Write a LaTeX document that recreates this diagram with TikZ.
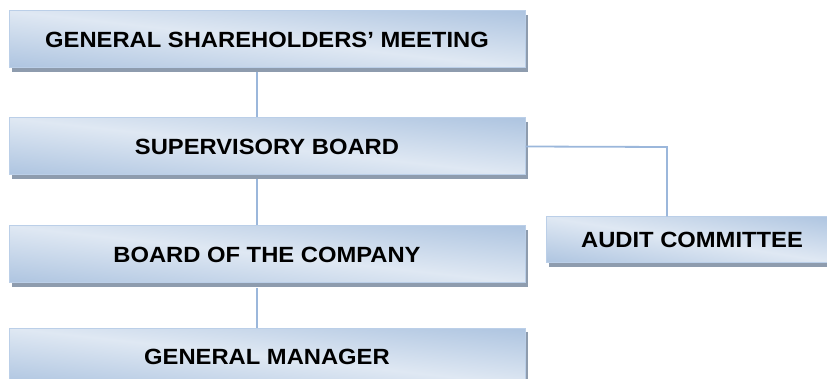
\documentclass[tikz,border=0pt]{standalone}
\usepackage{fontspec}
\setmainfont{Liberation Sans}[FakeStretch=1.08]
\usetikzlibrary{shadows}
\definecolor{boxedge}{HTML}{BBCFE8}
\definecolor{shadowgray}{HTML}{8E9CAE}
\definecolor{linkblue}{HTML}{9BB7DB}
% diagonal fill: pale band from upper left to lower right, blue towards
% the upper right and lower left corners (pale DFE8F3 -> blue 93B1D6)
\pgfdeclarefunctionalshading{diagshade}{\pgfpoint{-50bp}{-50bp}}{\pgfpoint{50bp}{50bp}}{}{
  add 100 div abs 1.3 mul dup 1 gt {pop 1} if
  dup -0.299 mul 0.875 add
  exch dup -0.216 mul 0.910 add
  exch -0.114 mul 0.953 add
}
\begin{document}
\begin{tikzpicture}[x=1pt,y=-1pt,
  orgbox/.style={shade, shading=diagshade, shading angle=0,
    draw=boxedge, line width=1pt,
    drop shadow={shadow xshift=3pt, shadow yshift=-4pt, fill=shadowgray, opacity=1},
    inner sep=0pt, font=\bfseries\fontsize{22}{26}\selectfont, text=black},
  wide/.style={orgbox, minimum width=516pt, minimum height=57pt},
  link/.style={draw=linkblue, line width=1.8pt}]
\useasboundingbox (0,0) rectangle (827,379);

% main column of the organisation chart
\node[wide] (gsm) at (267,39.5) {GENERAL SHAREHOLDERS’ MEETING};
\node[wide] (sb)  at (267,146.5) {SUPERVISORY BOARD};
\node[wide] (bc)  at (267,254.5) {BOARD OF THE COMPANY};
\node[wide] (gm)  at (267,356.5) {GENERAL MANAGER};

% side branch
\node[orgbox, minimum width=292pt, minimum height=46pt] (ac) at (692,240) {AUDIT COMMITTEE};

% connectors
\draw[link] ([xshift=-10pt,yshift=-4pt]gsm.south) -- ([xshift=-10pt]sb.north);
\draw[link] ([xshift=-10pt,yshift=-4pt]sb.south) -- ([xshift=-10pt]bc.north);
\draw[link] ([xshift=-10pt,yshift=-5pt]bc.south) -- ([xshift=-10pt]gm.north);
\coordinate (bend) at (667,147);
\draw[link] (sb.east) -- (bend) -- (bend |- ac.north);
\end{tikzpicture}
\end{document}
